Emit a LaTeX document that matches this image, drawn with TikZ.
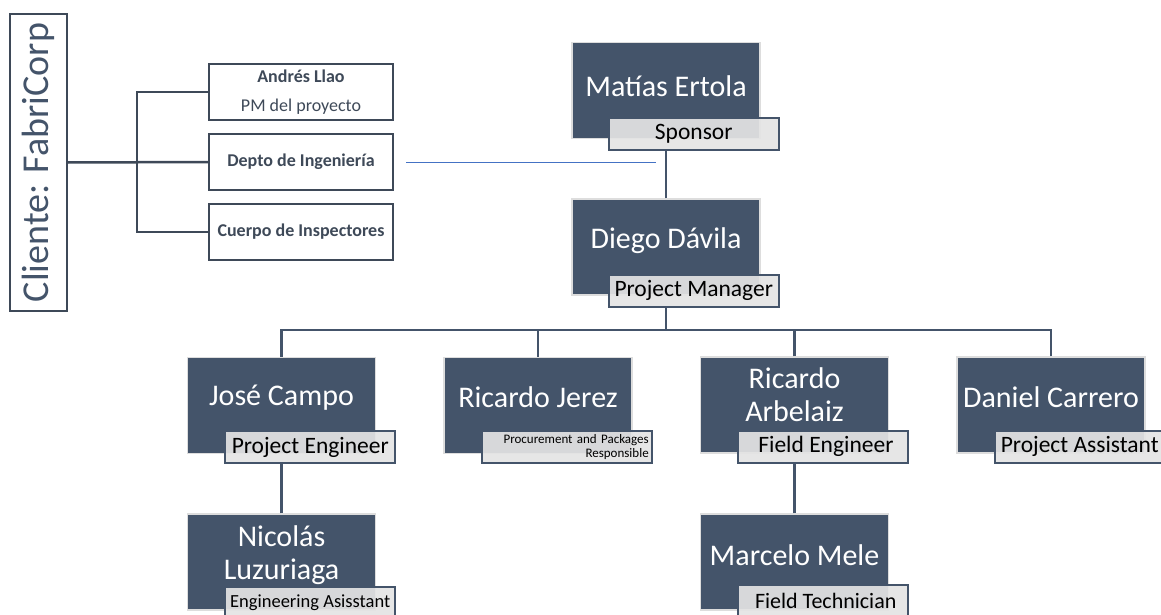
\documentclass[tikz,border=0pt]{standalone}
\usepackage{fontspec}
\setmainfont{Carlito}
\usepackage{xcolor}
\usepackage{tikz}
\usetikzlibrary{calc,positioning}
\definecolor{slate}{HTML}{44546A}
\definecolor{tag}{HTML}{E4E4E4}
\definecolor{halo}{HTML}{DDDDDD}
\definecolor{frame}{HTML}{3E4958}
\definecolor{link}{HTML}{4472C4}
\tikzset{
  person/.style={fill=slate, draw=halo, line width=1.5pt, minimum width=188pt, minimum height=96pt, inner sep=0pt},
  who/.style={text=white, font=\fontsize{30}{33}\selectfont, align=center, inner sep=0pt},
  role/.style={fill=tag, fill opacity=0.92, text opacity=1, draw=slate, line width=2pt,
    minimum width=170pt, minimum height=32pt, inner sep=1pt, font=\fontsize{23.5}{26}\selectfont, anchor=south east},
  client/.style={draw=frame, line width=2pt, minimum width=184pt, minimum height=56pt, inner sep=1pt,
    text=frame, align=center, font=\fontsize{18}{29}\selectfont},
  wire/.style={draw=slate, line width=2.5pt},
  wirel/.style={draw=frame, line width=2.5pt},
  thin/.style={draw=link, line width=1pt}
}

\begin{document}
\begin{tikzpicture}[x=1pt, y=-1pt]
  \useasboundingbox (0,0) rectangle (1161,615);

  % client side
  \node[draw=frame, line width=2pt, rotate=90, minimum width=297pt, minimum height=57pt, inner sep=0pt,
    text=slate, font=\fontsize{38}{39}\selectfont] (cliente) at (38.5,162.5) {Cliente: FabriCorp};
  \node[client] (andres) at (301,92) {\textbf{Andrés Llao}\\PM del proyecto};
  \node[client] (depto) at (301,162) {\textbf{Depto de Ingeniería}};
  \node[client] (cuerpo) at (301,232) {\textbf{Cuerpo de Inspectores}};
  \coordinate (fork) at (137,162);
  \draw[wirel] (cliente.south) -- (depto.west);
  \draw[wirel] (andres.west) -| (fork);
  \draw[wirel] (cuerpo.west) -| (fork);

  % sponsor and PM
  \node[person] (sponsor) at (666,90.5) {};
  \node[who] (sponsorname) at ($(sponsor)+(0,-4)$) {Matías Ertola};
  \node[role] (sponsorrole) at ($(sponsor.south east)+(19,12)$) {Sponsor};

  \node[person] (pm) at (666,247) {};
  \node[who] (pmname) at ($(pm)+(0,-6)$) {Diego Dávila};
  \node[role] (pmrole) at ($(pm.south east)+(19,12)$) {Project Manager};

  \coordinate (tap) at (656,162);
  \draw[thin] ([xshift=12pt]depto.east) -- (tap);
  \draw[wire] (pm.north) -- (pm.north |- sponsorrole.south);

  % second row
  \node[person] (jose) at (281.5,405.5) {};
  \node[who] (josename) at ($(jose)+(0,-8)$) {José Campo};
  \node[role] (joserole) at ($(jose.south east)+(20,10)$) {Project Engineer};

  \node[person] (jerez) at (538,405.5) {};
  \node[who] (jerezname) at ($(jerez)+(0,-8)$) {Ricardo Jerez};
  \node[role, text width=164pt, align=right, font=\fontsize{13}{14}\selectfont] (jerezrole)
    at ($(jerez.south east)+(20,10)$) {Procurement and Packages\\Responsible};

  \node[person] (arbelaiz) at (794.5,405) {};
  \node[who] (arbelaizname) at ($(arbelaiz)+(0,-10)$) {Ricardo\\Arbelaiz};
  \node[role] (arbelaizrole) at ($(arbelaiz.south east)+(20,10)$) {\ Field Engineer};

  \node[person] (carrero) at (1051,405) {};
  \node[who] (carreroname) at ($(carrero)+(0,-8)$) {Daniel Carrero};
  \node[role] (carrerorole) at ($(carrero.south east)+(20,10)$) {Project Assistant};

  % third row
  \node[person] (nicolas) at (281.5,562) {};
  \node[who] (nicolasname) at ($(nicolas)+(0,-7)$) {Nicolás\\Luzuriaga};
  \node[role, font=\fontsize{18.5}{20}\selectfont] (nicolasrole) at ($(nicolas.south east)+(20,9)$) {Engineering Asisstant};

  \node[person] (mele) at (794.5,562) {};
  \node[who] (melename) at ($(mele)+(0,-7)$) {Marcelo Mele};
  \node[role, font=\fontsize{22}{24}\selectfont] (melerole) at ($(mele.south east)+(20,7)$) {\ Field Technician};

  % tree lines
  \coordinate (bus) at (666,330);
  \draw[wire] (pmrole.south -| pm.south) -- (bus);
  \draw[wire] (jose.north) |- (bus);
  \draw[wire] (carrero.north) |- (bus);
  \draw[wire] (jerez.north) -- (jerez.north |- bus);
  \draw[wire] (arbelaiz.north) -- (arbelaiz.north |- bus);
  \draw[wire] (nicolas.north) -- (nicolas.north |- joserole.south);
  \draw[wire] (mele.north) -- (mele.north |- arbelaizrole.south);
\end{tikzpicture}
\end{document}
